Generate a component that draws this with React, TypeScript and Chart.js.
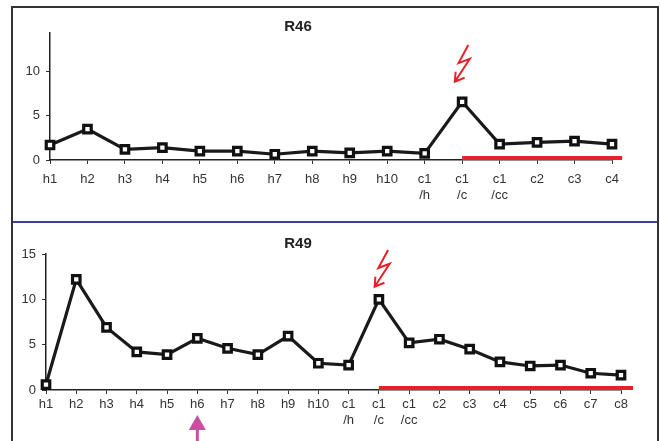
import React, { useEffect, useRef } from 'react';
import { Chart, registerables } from 'chart.js';

Chart.register(...registerables);

// ---- data ----
const labelsR46: (string | string[])[] = ['h1', 'h2', 'h3', 'h4', 'h5', 'h6', 'h7', 'h8', 'h9', 'h10', ['c1', '/h'], ['c1', '/c'], ['c1', '/cc'], 'c2', 'c3', 'c4'];
const valuesR46 = [1.7, 3.5, 1.2, 1.4, 1.0, 1.0, 0.65, 1.0, 0.8, 1.0, 0.75, 6.6, 1.8, 2.0, 2.15, 1.8];

const labelsR49: (string | string[])[] = ['h1', 'h2', 'h3', 'h4', 'h5', 'h6', 'h7', 'h8', 'h9', 'h10', ['c1', '/h'], ['c1', '/c'], ['c1', '/cc'], 'c2', 'c3', 'c4', 'c5', 'c6', 'c7', 'c8'];
const valuesR49 = [0.6, 12.2, 6.9, 4.2, 3.9, 5.7, 4.6, 3.9, 5.95, 2.95, 2.75, 10.0, 5.2, 5.6, 4.5, 3.1, 2.65, 2.75, 1.85, 1.65];

const yTicksR46 = [0, 5, 10];
const yTicksR49 = [0, 5, 10, 15];

const FONT = "'Liberation Sans', Arial, Helvetica, sans-serif";

type PanelCfg = {
  title: string;
  labels: (string | string[])[];
  values: number[];
  yTicks: number[];
  yMax: number;
  top: number;
  height: number;
  padTop: number;
  padRight: number;
  yWidth: number;
  xHeight: number;
  labelPad: number;
  titleX: number;
  titleY: number;
  boltIndex: number;
  boltTip: [number, number];
  redFrom: number;
  redExtend: number;
  arrowIndex: number | null;
};

const annotPlugin = (cfg: PanelCfg) => ({
  id: 'annot' + cfg.title,
  afterDatasetsDraw(chart: any) {
    const ctx = chart.ctx as CanvasRenderingContext2D;
    const xs = chart.scales.x;
    const ys = chart.scales.y;
    const y0 = ys.getPixelForValue(0);
    const n = cfg.labels.length;
    const step = xs.getPixelForValue(1) - xs.getPixelForValue(0);
    ctx.save();
    // red baseline segment
    ctx.strokeStyle = '#e8202a';
    ctx.lineWidth = 4;
    ctx.beginPath();
    ctx.moveTo(xs.getPixelForValue(cfg.redFrom), y0 - 2);
    ctx.lineTo(xs.getPixelForValue(n - 1) + step * cfg.redExtend, y0 - 2);
    ctx.stroke();

    // lightning bolt
    const px = xs.getPixelForValue(cfg.boltIndex);
    const py = ys.getPixelForValue(cfg.values[cfg.boltIndex]);
    const tx = px + cfg.boltTip[0];
    const ty = py + cfg.boltTip[1];
    ctx.lineWidth = 2;
    ctx.lineJoin = 'miter';
    ctx.beginPath();
    ctx.moveTo(tx + 13.5, ty - 36.7);
    ctx.lineTo(tx + 3.7, ty - 18.7);
    ctx.lineTo(tx + 15, ty - 23);
    ctx.lineTo(tx, ty);
    ctx.moveTo(tx + 0.8, ty - 10);
    ctx.lineTo(tx, ty);
    ctx.lineTo(tx + 9.8, ty - 4);
    ctx.stroke();

    // magenta arrow
    if (cfg.arrowIndex !== null) {
      const ax = xs.getPixelForValue(cfg.arrowIndex);
      const tipY = y0 + 25;
      ctx.fillStyle = '#c8509f';
      ctx.beginPath();
      ctx.moveTo(ax, tipY);
      ctx.lineTo(ax + 8.5, tipY + 15);
      ctx.lineTo(ax - 8.5, tipY + 15);
      ctx.closePath();
      ctx.fill();
      ctx.fillRect(ax - 1.5, tipY + 14, 3, chart.height - tipY);
    }
    ctx.restore();
  },
  afterDraw(chart: any) {
    const ctx = chart.ctx as CanvasRenderingContext2D;
    ctx.save();
    ctx.font = `bold 15px ${FONT}`;
    ctx.fillStyle = '#222';
    ctx.textAlign = 'center';
    ctx.textBaseline = 'middle';
    ctx.fillText(cfg.title, cfg.titleX, cfg.titleY);
    ctx.restore();
  },
});

function Panel({ cfg }: { cfg: PanelCfg }) {
  const ref = useRef<HTMLCanvasElement>(null);
  useEffect(() => {
    const chart = new Chart(ref.current as HTMLCanvasElement, {
      type: 'line',
      data: {
        labels: cfg.labels as any,
        datasets: [
          {
            data: cfg.values,
            borderColor: '#1a1a1a',
            borderWidth: 3.2,
            tension: 0,
            pointStyle: 'rect',
            pointRadius: 5.3,
            pointBorderWidth: 3.2,
            pointBackgroundColor: '#ffffff',
            pointBorderColor: '#111111',
            clip: false as any,
          },
        ],
      },
      options: {
        responsive: false,
        animation: false,
        events: [],
        layout: { padding: { top: cfg.padTop, right: cfg.padRight, left: 0, bottom: 0 } },
        plugins: {
          legend: { display: false },
          tooltip: { enabled: false },
          title: { display: false },
        },
        scales: {
          x: {
            type: 'category',
            offset: false,
            afterFit: (s: any) => {
              s.height = cfg.xHeight;
            },
            border: { display: true, color: '#222', width: 1.5 },
            grid: { display: true, drawOnChartArea: false, drawTicks: true, tickLength: 4, color: '#333', lineWidth: 1, offset: false },
            ticks: {
              autoSkip: false,
              maxRotation: 0,
              minRotation: 0,
              padding: cfg.labelPad,
              color: '#333',
              font: { family: FONT, size: 13, lineHeight: 1.2 },
            },
          },
          y: {
            type: 'linear',
            min: 0,
            max: cfg.yMax,
            afterFit: (s: any) => {
              s.width = cfg.yWidth;
            },
            afterBuildTicks: (s: any) => {
              s.ticks = cfg.yTicks.map((v) => ({ value: v }));
            },
            border: { display: true, color: '#222', width: 1.5 },
            grid: { display: true, drawOnChartArea: false, drawTicks: true, tickLength: 4, color: '#333', lineWidth: 1 },
            ticks: {
              padding: 6,
              color: '#333',
              font: { family: FONT, size: 13 },
            },
          },
        },
      },
      plugins: [annotPlugin(cfg)],
    });
    return () => chart.destroy();
  }, []);
  return (
    <canvas
      ref={ref}
      width={660}
      height={cfg.height}
      style={{ position: 'absolute', left: 0, top: cfg.top, width: 660, height: cfg.height }}
    />
  );
}

const topCfg: PanelCfg = {
  title: 'R46',
  labels: labelsR46,
  values: valuesR46,
  yTicks: yTicksR46,
  yMax: 14.4,
  top: 0,
  height: 220,
  padTop: 33,
  padRight: 48,
  yWidth: 50,
  xHeight: 60,
  labelPad: 8,
  titleX: 298,
  titleY: 27,
  boltIndex: 11,
  boltTip: [-7.3, -20],
  redFrom: 11,
  redExtend: 0.27,
  arrowIndex: null,
};

const bottomCfg: PanelCfg = {
  title: 'R49',
  labels: labelsR49,
  values: valuesR49,
  yTicks: yTicksR49,
  yMax: 15,
  top: 223,
  height: 218,
  padTop: 31,
  padRight: 39,
  yWidth: 46,
  xHeight: 51,
  labelPad: 3,
  titleX: 298,
  titleY: 20.5,
  boltIndex: 11,
  boltTip: [-4.3, -12.6],
  redFrom: 11,
  redExtend: 0.4,
  arrowIndex: 5,
};

export default function App() {
  return (
    <div
      style={{
        position: 'fixed',
        left: 0,
        top: 0,
        width: 660,
        height: 441,
        overflow: 'hidden',
        background: '#ffffff',
      }}
    >
      <Panel cfg={topCfg} />
      <Panel cfg={bottomCfg} />
      <div
        style={{
          position: 'absolute',
          left: 11,
          top: 6,
          width: 644,
          height: 500,
          border: '2px solid #333',
          boxSizing: 'content-box',
          pointerEvents: 'none',
        }}
      />
      <div
        style={{
          position: 'absolute',
          left: 13,
          top: 221,
          width: 644,
          height: 2,
          background: '#3c3c9c',
        }}
      />
    </div>
  );
}
